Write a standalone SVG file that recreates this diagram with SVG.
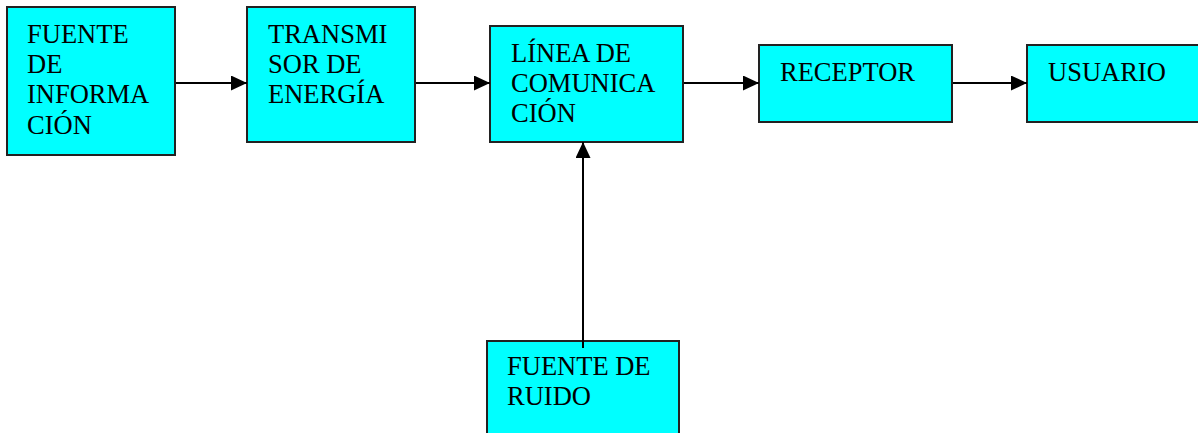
<svg xmlns="http://www.w3.org/2000/svg" width="1198" height="433" viewBox="0 0 1198 433">
<defs>
<marker id="ah" markerWidth="16" markerHeight="15" refX="16" refY="7.5" orient="auto" markerUnits="userSpaceOnUse">
<path d="M0,0 L16,7.5 L0,15 Z" fill="#000"/>
</marker>
<style>
.box{fill:#00FFFF;stroke:#222;stroke-width:2}
.t{font-family:"Liberation Serif","Times New Roman",serif;font-size:26.5px;fill:#000}
.c{stroke:#000;stroke-width:2;fill:none}
</style>
</defs>
<rect width="1198" height="433" fill="#fff"/>
<g id="fuente-info">
<rect class="box" x="7" y="7" width="168" height="148"/>
<text class="t" x="27" y="43">FUENTE</text>
<text class="t" x="27" y="73">DE</text>
<text class="t" x="27" y="103">INFORMA</text>
<text class="t" x="27" y="134">CIÓN</text>
</g>
<g id="transmisor">
<rect class="box" x="247" y="7" width="168" height="135"/>
<text class="t" x="268" y="43">TRANSMI</text>
<text class="t" x="268" y="73">SOR DE</text>
<text class="t" x="268" y="103">ENERGÍA</text>
</g>
<g id="linea">
<rect class="box" x="490" y="26" width="193" height="116"/>
<text class="t" x="511" y="62">LÍNEA DE</text>
<text class="t" x="511" y="92">COMUNICA</text>
<text class="t" x="511" y="122">CIÓN</text>
</g>
<g id="receptor">
<rect class="box" x="759" y="45" width="193" height="77"/>
<text class="t" x="780" y="81">RECEPTOR</text>
</g>
<g id="usuario">
<rect class="box" x="1027" y="45" width="180" height="77"/>
<text class="t" x="1048" y="81">USUARIO</text>
</g>
<g id="ruido">
<rect class="box" x="487" y="341" width="192" height="100"/>
<text class="t" x="507" y="375">FUENTE DE</text>
<text class="t" x="507" y="405">RUIDO</text>
</g>
<g id="connectors">
<line class="c" x1="176" y1="83" x2="247" y2="83" marker-end="url(#ah)"/>
<line class="c" x1="416" y1="83" x2="490" y2="83" marker-end="url(#ah)"/>
<line class="c" x1="684" y1="83" x2="759" y2="83" marker-end="url(#ah)"/>
<line class="c" x1="953" y1="83" x2="1027" y2="83" marker-end="url(#ah)"/>
<line class="c" x1="583" y1="348" x2="583" y2="142" marker-end="url(#ah)"/>
</g>
</svg>
